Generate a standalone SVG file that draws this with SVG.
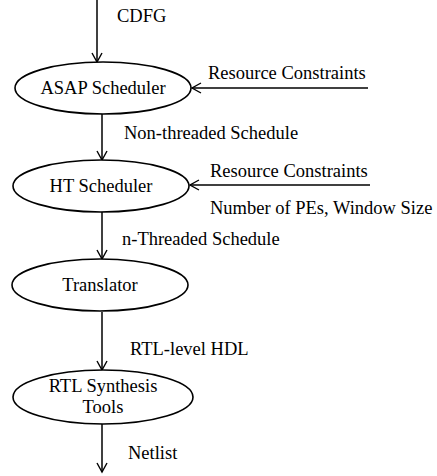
<svg xmlns="http://www.w3.org/2000/svg" width="437" height="476" viewBox="0 0 437 476">
<defs>
<style>
.n{fill:#fff;stroke:#000;stroke-width:1.6}
.e{fill:none;stroke:#000;stroke-width:1.5}
text{font-family:"Liberation Serif","Times New Roman",serif;font-size:18.5px;fill:#000}
.c{text-anchor:middle}
</style>
<marker id="ah" markerWidth="12" markerHeight="12" refX="10" refY="6" orient="auto" markerUnits="userSpaceOnUse">
<path d="M1,1 L10,6 L1,11" fill="none" stroke="#000" stroke-width="1.4"/>
</marker>
</defs>
<rect width="437" height="476" fill="#fff"/>
<g id="connectors">
<line class="e" x1="97" y1="0" x2="97" y2="62" marker-end="url(#ah)"/>
<line class="e" x1="368" y1="88" x2="192" y2="88" marker-end="url(#ah)"/>
<line class="e" x1="102" y1="114" x2="102" y2="160" marker-end="url(#ah)"/>
<line class="e" x1="370" y1="185" x2="190" y2="185" marker-end="url(#ah)"/>
<line class="e" x1="102" y1="212" x2="102" y2="259" marker-end="url(#ah)"/>
<line class="e" x1="102" y1="312" x2="102" y2="370" marker-end="url(#ah)"/>
<line class="e" x1="102" y1="424" x2="102" y2="472" marker-end="url(#ah)"/>
</g>
<g id="cdfg-label"><text x="117" y="22">CDFG</text></g>
<g id="asap">
<ellipse class="n" cx="103" cy="88" rx="88" ry="26"/>
<text class="c" x="103" y="94">ASAP Scheduler</text>
</g>
<g id="rc1-label"><text x="208" y="79">Resource Constraints</text></g>
<g id="nonthreaded-label"><text x="124" y="139">Non-threaded Schedule</text></g>
<g id="ht">
<ellipse class="n" cx="101" cy="186" rx="88" ry="26"/>
<text class="c" x="101" y="192">HT Scheduler</text>
</g>
<g id="rc2-label">
<text x="210" y="177">Resource Constraints</text>
<text x="210" y="214">Number of PEs, Window Size</text>
</g>
<g id="nthreaded-label"><text x="122" y="245">n-Threaded Schedule</text></g>
<g id="translator">
<ellipse class="n" cx="100" cy="285" rx="88" ry="26"/>
<text class="c" x="100" y="291">Translator</text>
</g>
<g id="rtlhdl-label"><text x="130" y="355">RTL-level HDL</text></g>
<g id="rtl">
<ellipse class="n" cx="103" cy="397" rx="90" ry="27"/>
<text class="c" x="103" y="392">RTL Synthesis</text>
<text class="c" x="103" y="413">Tools</text>
</g>
<g id="netlist-label"><text x="128" y="459">Netlist</text></g>
</svg>
